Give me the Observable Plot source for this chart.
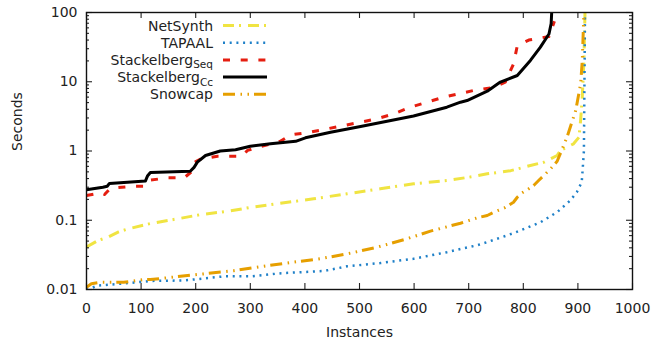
<!DOCTYPE html>
<html><head><meta charset="utf-8">
<script src="https://cdn.jsdelivr.net/npm/d3@7"></script>
<script src="https://cdn.jsdelivr.net/npm/@observablehq/plot@0.6"></script>
<style>body{margin:0;background:#fff} svg{font-family:"DejaVu Sans",sans-serif}</style>
</head><body><div id="chart"></div>
<script>
// ---- data ----
const netsynthX = [0, 21, 39, 57, 76, 118, 167, 210, 259, 302, 355, 416, 477, 538, 599, 660, 709, 734, 777, 813, 838, 862, 868, 892, 902, 905, 908, 911, 913];
const netsynthY = [0.041, 0.051, 0.057, 0.067, 0.075, 0.090, 0.105, 0.121, 0.135, 0.154, 0.176, 0.204, 0.241, 0.284, 0.336, 0.375, 0.428, 0.468, 0.52, 0.617, 0.69, 0.86, 1.02, 1.27, 1.58, 2.8, 6.0, 20, 100];

const tapaalX = [0, 21, 57, 118, 179, 253, 302, 357, 435, 477, 538, 599, 660, 685, 715, 734, 782, 832, 862, 886, 898, 907, 909, 911, 913];
const tapaalY = [0.0099, 0.0114, 0.0120, 0.0133, 0.0135, 0.0155, 0.0155, 0.0172, 0.0185, 0.0216, 0.0241, 0.0278, 0.0346, 0.0385, 0.0434, 0.0484, 0.065, 0.094, 0.131, 0.193, 0.254, 0.354, 0.58, 1.0, 100];

const seqX = [0, 27, 33, 44, 88, 108, 118, 148, 179, 192, 198, 210, 240, 284, 295, 313, 355, 374, 410, 441, 471, 502, 532, 563, 593, 624, 654, 709, 746, 767, 782, 789, 810, 847, 857];
const seqY = [0.228, 0.25, 0.235, 0.29, 0.31, 0.31, 0.38, 0.41, 0.41, 0.5, 0.69, 0.77, 0.84, 0.84, 1.02, 1.13, 1.38, 1.71, 1.87, 2.09, 2.33, 2.61, 2.92, 3.44, 4.29, 5.07, 5.99, 7.48, 8.3, 9.86, 18, 33, 40, 45, 75];

const ccX = [0, 30, 38, 42, 108, 112, 117, 190, 197, 203, 218, 245, 273, 300, 337, 383, 401, 447, 502, 599, 660, 685, 697, 734, 758, 789, 813, 831, 847, 851, 852];
const ccY = [0.275, 0.30, 0.31, 0.34, 0.37, 0.44, 0.49, 0.51, 0.58, 0.69, 0.86, 1.0, 1.04, 1.17, 1.27, 1.38, 1.55, 1.87, 2.26, 3.2, 4.29, 5.07, 5.35, 7.3, 9.9, 12.3, 20.3, 31.4, 49, 69, 100];

const snowcapX = [0, 9, 26, 68, 105, 117, 172, 214, 270, 325, 374, 429, 477, 532, 581, 630, 685, 715, 734, 750, 765, 782, 789, 797, 807, 819, 828, 850, 862, 880, 896, 905, 908, 911];
const snowcapY = [0.0108, 0.0121, 0.0127, 0.0127, 0.0139, 0.0139, 0.0155, 0.0168, 0.0187, 0.0217, 0.0245, 0.0279, 0.0327, 0.0408, 0.0522, 0.0697, 0.0906, 0.108, 0.117, 0.135, 0.15, 0.182, 0.215, 0.246, 0.275, 0.318, 0.375, 0.553, 0.71, 1.58, 3.84, 9.3, 20, 100];

const xTicks = [0, 100, 200, 300, 400, 500, 600, 700, 800, 900, 1000];
const yTicks = [0.01, 0.1, 1, 10, 100];
const yTickLabels = ["0.01", "0.1", "1", "10", "100"];

// ---- build ----
const series = [
  {name: "NetSynth", xs: netsynthX, ys: netsynthY, color: "#f0e442", width: 3, dash: "11,5,2,7"},
  {name: "TAPAAL", xs: tapaalX, ys: tapaalY, color: "#1f80c8", width: 2.5, dash: "2,4.7"},
  {name: "Stackelberg", sub: "Seq", xs: seqX, ys: seqY, color: "#e51e10", width: 3, dash: "7,10.7"},
  {name: "Stackelberg", sub: "Cc", xs: ccX, ys: ccY, color: "#000000", width: 3, dash: null},
  {name: "Snowcap", xs: snowcapX, ys: snowcapY, color: "#e69f00", width: 3, dash: "12,5.5,1.5,5.5,1.5,5"}
];
const drawOrder = [0, 1, 4, 2, 3];

const W = 652, H = 343, mL = 86, mR = 20, mT = 12, mB = 54;
const iw = W - mL - mR, ih = H - mT - mB;
const yMinor = [];
for (const d of [0.01, 0.1, 1, 10]) for (let k = 2; k <= 9; k++) yMinor.push(+(d * k).toPrecision(3));

const lineMarks = drawOrder.map(i => {
  const s = series[i];
  const rows = s.xs.map((x, j) => ({x, y: s.ys[j]}));
  return Plot.line(rows, {x: "x", y: "y", stroke: s.color, strokeWidth: s.width,
    strokeDasharray: s.dash, strokeLinecap: "butt", strokeLinejoin: "round", clip: true});
});

const tickStyle = {stroke: "#222", strokeWidth: 1.1};
const plot = Plot.plot({
  width: W, height: H,
  marginLeft: mL, marginRight: mR, marginTop: mT, marginBottom: mB,
  style: {fontFamily: "DejaVu Sans, sans-serif", fontSize: "14px", color: "#222", background: "#fff"},
  x: {domain: [0, 1000]},
  y: {type: "log", domain: [0.01, 100]},
  marks: [
    ...lineMarks,
    Plot.ruleX(xTicks, {x: d => d, insetTop: ih - 6, ...tickStyle}),
    Plot.ruleX(xTicks, {x: d => d, insetBottom: ih - 6, ...tickStyle}),
    Plot.ruleY(yTicks, {y: d => d, insetRight: iw - 6, ...tickStyle}),
    Plot.ruleY(yTicks, {y: d => d, insetLeft: iw - 6, ...tickStyle}),
    Plot.ruleY(yMinor, {y: d => d, insetRight: iw - 3, ...tickStyle}),
    Plot.ruleY(yMinor, {y: d => d, insetLeft: iw - 3, ...tickStyle}),
    Plot.frame({stroke: "#111", strokeWidth: 1.4}),
    Plot.axisX(xTicks, {tickSize: 0, tickPadding: 14, label: null, fill: "#222", tickFormat: d => String(d)}),
    Plot.axisY(yTicks, {tickSize: 0, tickPadding: 9, label: null, fill: "#222",
      tickFormat: d => yTickLabels[yTicks.indexOf(d)]}),
    Plot.text(["Instances"], {text: d => d, frameAnchor: "bottom", dy: 47, fill: "#222", fontSize: 14}),
    Plot.text(["Seconds"], {text: d => d, frameAnchor: "left", dx: -69, rotate: -90, fill: "#222", fontSize: 14})
  ]
});
document.getElementById("chart").appendChild(plot);

// ---- legend (inside plot, top-left) ----
const svg = d3.select(plot);
const lg = svg.append("g").attr("font-family", "DejaVu Sans, sans-serif").attr("font-size", 14).attr("fill", "#222");
const rowY = [25.5, 42.7, 59.9, 77.1, 94.3];
series.forEach((s, i) => {
  const y = rowY[i];
  const t = lg.append("text").attr("x", 213).attr("y", y).attr("dy", "0.36em").attr("text-anchor", "end");
  t.append("tspan").text(s.name);
  if (s.sub) t.append("tspan").attr("font-size", 10.5).attr("dy", "0.32em").text(s.sub);
  lg.append("line").attr("x1", 223).attr("x2", 267).attr("y1", y).attr("y2", y)
    .attr("stroke", s.color).attr("stroke-width", s.width)
    .attr("stroke-dasharray", s.dash).attr("stroke-linecap", "butt");
});
</script></body></html>
